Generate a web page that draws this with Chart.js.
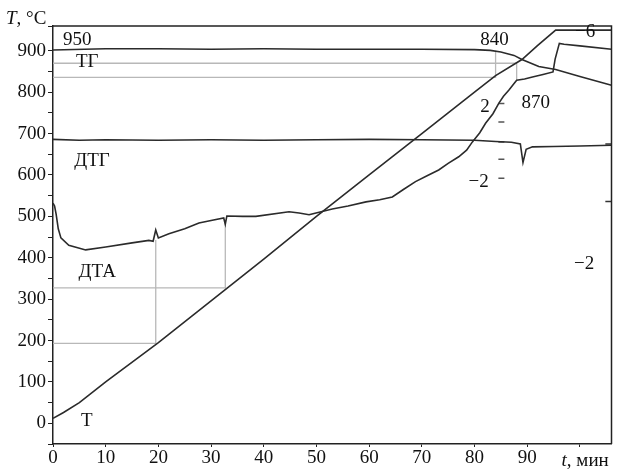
<!DOCTYPE html>
<html lang="ru">
<head>
  <meta charset="UTF-8">
  <title>Дериватограмма</title>
  <script src="https://cdn.jsdelivr.net/npm/chart.js@4.4.1/dist/chart.umd.min.js"></script>
  <style>
    * { margin: 0; padding: 0; }
    body { background: #fff; }
    .chart { width: 617px; height: 472px; }
  </style>
</head>
<body>
  <div class="chart">
    <canvas id="dta"></canvas>
  </div>

  <script>
    // время, мин / значения кривых (в единицах оси T, °C)
    const tTime = [0, 2, 5, 10, 20, 30, 40, 50, 60, 70, 80, 84, 89, 92, 95.4, 106];
    const tTemp = [12, 26, 50, 100, 195, 296, 397, 500, 600, 700, 800, 840, 879, 913, 950, 950];

    const tgTime = [0, 10, 20, 30, 40, 50, 60, 70, 80, 83, 85, 87.5, 89, 92.2, 95.4, 100, 106];
    const tgVal = [902, 905, 905, 904, 905, 904, 904, 904, 903, 901, 897, 889, 879, 862, 855, 838, 817];

    const dtgTime = [0, 5, 10, 20, 30, 40, 50, 60, 70, 80, 84, 87, 88.7, 89.2, 89.8, 91, 95, 100, 106];
    const dtgVal = [686, 684, 685, 684, 685, 684, 685, 686, 685, 684, 681, 679, 675, 630, 662, 668, 669, 670, 672];

    const dtaTime = [0, 0.3, 0.6, 1.0, 1.5, 3, 6.2, 10, 15, 18.2, 19.0, 19.5, 20.0, 22, 25, 27.7, 30, 32.4, 32.7, 33.0, 36, 38.5, 44.8, 46.7, 48.6,
      53, 56, 59.4, 62, 64.4, 66.5, 68.8, 71, 73.2, 75, 77, 78.5, 79.6, 81, 82.1, 83.5, 84.6, 85.5, 86.5, 88, 89.5, 91, 93, 94.9, 95.3, 96.1, 97, 100, 106];
    const dtaVal = [532, 525, 505, 470, 448, 430, 419, 426, 436, 442, 440, 467, 448, 458, 470, 484, 490, 496, 481, 501, 500, 500, 511, 508, 504,
      518, 525, 535, 540, 547, 565, 584, 598, 612, 628, 644, 660, 680, 702, 725, 748, 773, 790, 805, 829, 832, 837, 843, 849, 880, 918, 916, 912, 904];

    // вспомогательные линии отсчёта температур
    const refA = { t: [0, 19.5, 19.5], v: [193, 193, 443] };
    const refB = { t: [0, 32.7, 32.7], v: [327, 327, 485] };
    const refC = { t: [0, 84, 84], v: [836, 836, 900] };
    const refD = { t: [0, 88, 88], v: [870, 870, 829] };

    // шкала ДТГ (деления) и деления на правой рамке
    const dtgScaleTime = [85.1, 85.1, 85.1, 85.1, 85.1];
    const dtgScaleVal = [773, 728, 680, 638, 592];
    const rightTickTime = [105.4, 105.4];
    const rightTickVal = [675, 536];

    const xTickVals = [0, 10, 20, 30, 40, 50, 60, 70, 80, 90, 100];
    const yMin = -50, yMax = 960;
    const xMax = 106;

    const notes = [
      { text: '950', t: 4.6, v: 925 },
      { text: 'ТГ', t: 6.5, v: 873 },
      { text: 'ДТГ', t: 7.4, v: 634 },
      { text: 'ДТА', t: 8.4, v: 366 },
      { text: 'Т', t: 6.4, v: 6 },
      { text: '840', t: 83.8, v: 925 },
      { text: '870', t: 91.6, v: 775 },
      { text: '2', t: 82, v: 765 },
      { text: '\u22122', t: 80.8, v: 582 },
      { text: '\u22126', t: 101, v: 945 },
      { text: '\u22122', t: 100.8, v: 384 }
    ];

    function pts(xs, ys) {
      return xs.map((x, i) => ({ x: x, y: ys[i] }));
    }

    const curve = '#2b2b2b';
    const gray = '#b8b8b8';
    const serif = '"Liberation Serif", "DejaVu Serif", serif';

    function line(data, color, width) {
      return {
        data: data,
        showLine: true,
        borderColor: color,
        borderWidth: width,
        pointRadius: 0,
        tension: 0,
        fill: false
      };
    }

    const labelsPlugin = {
      id: 'labels',
      afterDatasetsDraw(chart) {
        const ctx = chart.ctx;
        const x = chart.scales.x, y = chart.scales.y;
        const a = chart.chartArea;
        ctx.save();
        // рамка сверху и справа
        ctx.strokeStyle = '#222';
        ctx.lineWidth = 1.5;
        ctx.beginPath();
        ctx.moveTo(a.left, a.top);
        ctx.lineTo(a.right, a.top);
        ctx.lineTo(a.right, a.bottom);
        ctx.stroke();

        ctx.fillStyle = '#111';
        ctx.font = '19px ' + serif;
        ctx.textAlign = 'center';
        ctx.textBaseline = 'middle';
        notes.forEach(n => {
          ctx.fillText(n.text, x.getPixelForValue(n.t), y.getPixelForValue(n.v));
        });

        // подпись оси T, °C
        ctx.textAlign = 'left';
        ctx.textBaseline = 'alphabetic';
        ctx.font = 'italic 19px ' + serif;
        let px = 6;
        ctx.fillText('T', px, 24);
        px += ctx.measureText('T').width;
        ctx.font = '19px ' + serif;
        ctx.fillText(', °C', px, 24);

        // подпись оси t, мин
        ctx.font = 'italic 19px ' + serif;
        const w1 = ctx.measureText('t').width;
        ctx.font = '19px ' + serif;
        const w2 = ctx.measureText(', мин').width;
        let sx = x.getPixelForValue(101) - (w1 + w2) / 2;
        ctx.font = 'italic 19px ' + serif;
        ctx.fillText('t', sx, 466);
        ctx.font = '19px ' + serif;
        ctx.fillText(', мин', sx + w1, 466);
        ctx.restore();
      }
    };

    const config = {
      type: 'scatter',
      data: {
        datasets: [
          line(pts(tTime, tTemp), curve, 1.6),
          line(pts(tgTime, tgVal), curve, 1.6),
          line(pts(dtgTime, dtgVal), curve, 1.6),
          line(pts(dtaTime, dtaVal), curve, 1.6),
          line(pts(refA.t, refA.v), gray, 1.3),
          line(pts(refB.t, refB.v), gray, 1.3),
          line(pts(refC.t, refC.v), gray, 1.3),
          line(pts(refD.t, refD.v), gray, 1.3),
          {
            data: pts(dtgScaleTime, dtgScaleVal),
            showLine: false,
            pointStyle: 'line',
            pointRadius: 3,
            borderColor: '#555',
            borderWidth: 1.5
          },
          {
            data: pts(rightTickTime, rightTickVal),
            showLine: false,
            pointStyle: 'line',
            pointRadius: 3,
            borderColor: '#333',
            borderWidth: 1.5
          }
        ]
      },
      options: {
        responsive: true,
        maintainAspectRatio: false,
        animation: false,
        layout: { padding: { top: 26, right: 5, left: 0, bottom: 0 } },
        plugins: {
          legend: { display: false },
          tooltip: { enabled: false }
        },
        scales: {
          x: {
            type: 'linear',
            min: 0,
            max: xMax,
            afterFit: s => { s.height = 28; },
            afterBuildTicks: s => {
              s.ticks = xTickVals.map(v => ({ value: v }));
            },
            ticks: {
              autoSkip: false,
              color: '#111',
              font: { family: serif, size: 19 },
              padding: 0,
              maxRotation: 0,
              callback: v => (v < 100 ? String(v) : '')
            },
            grid: { drawOnChartArea: false, tickLength: 3, color: '#222' },
            border: { color: '#222', width: 1.5 }
          },
          y: {
            min: yMin,
            max: yMax,
            afterFit: s => { s.width = 53; },
            ticks: {
              stepSize: 50,
              autoSkip: false,
              color: '#111',
              font: { family: serif, size: 19 },
              padding: 2,
              callback: v => {
                const r = Math.round(v);
                return (r >= 0 && r <= 900 && r % 100 === 0) ? String(r) : '';
              }
            },
            grid: { drawOnChartArea: false, tickLength: 5, color: '#222' },
            border: { color: '#222', width: 1.5 }
          }
        }
      },
      plugins: [labelsPlugin]
    };

    new Chart(document.getElementById('dta').getContext('2d'), config);
  </script>
</body>
</html>
